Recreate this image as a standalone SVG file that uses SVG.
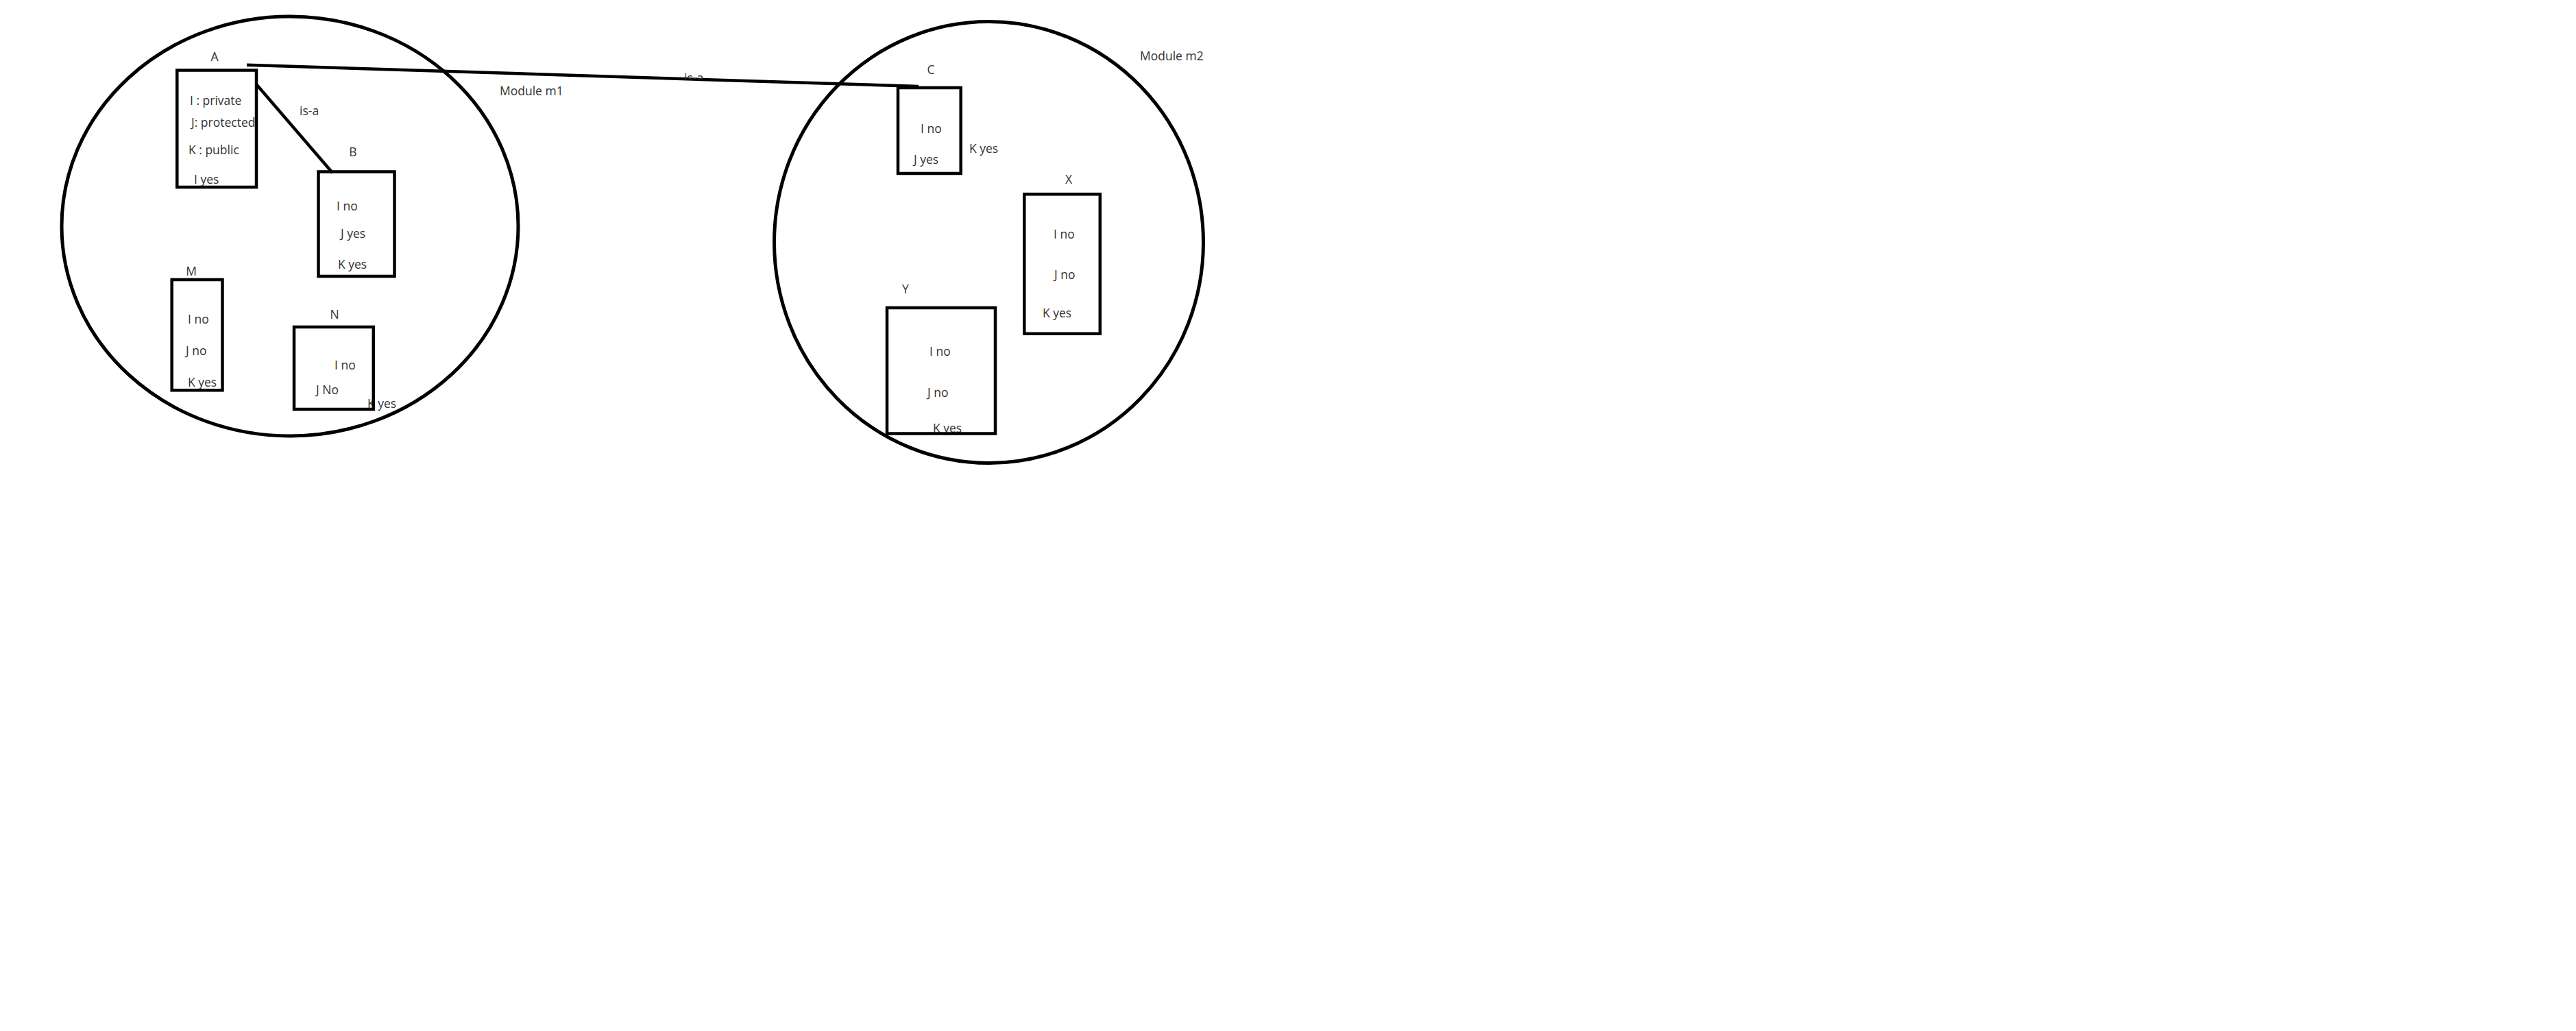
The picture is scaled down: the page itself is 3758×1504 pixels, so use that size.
<svg xmlns="http://www.w3.org/2000/svg" width="3758" height="1504" viewBox="0 0 3758 1504">
<style>
  .t { font-family: "Open Sans", "Noto Sans", "Liberation Sans", sans-serif; font-size: 17.5px; fill: #333; }
  .c { text-anchor: middle; }
  .box { fill: none; stroke: #000; stroke-width: 4.5; }
  .mod { fill: none; stroke: #000; stroke-width: 5; }
  .edge { fill: none; stroke: #000; stroke-width: 4.5; stroke-linecap: butt; }
</style>
<defs>
  <clipPath id="isaClip"><rect x="980" y="90" width="60" height="26"/></clipPath>
</defs>
<rect x="0" y="0" width="3758" height="1504" fill="#fff"/>

<g id="module-m1">
  <ellipse class="mod" cx="423" cy="330" rx="333" ry="306"/>
  <text class="t" x="729" y="139">Module m1</text>
</g>
<g id="module-m2">
  <ellipse class="mod" cx="1442.5" cy="353.5" rx="313" ry="322"/>
  <text class="t" x="1663" y="88">Module m2</text>
</g>

<g id="connectors">
  <line class="edge" x1="374" y1="123" x2="485" y2="252"/>
  <text class="t" x="437" y="168">is-a</text>
  <line class="edge" x1="360" y1="94.7" x2="1340" y2="126"/>
  <text class="t" x="998" y="120" clip-path="url(#isaClip)">is-a</text>
</g>

<g id="node-A">
  <text class="t c" x="313" y="89">A</text>
  <text class="t" x="277" y="153">I : private</text>
  <text class="t" x="279" y="185">J: protected</text>
  <text class="t" x="275" y="225">K : public</text>
  <text class="t" x="283" y="268">I yes</text>
  <rect class="box" x="258.3" y="102.5" width="115.7" height="170.5"/>
</g>

<g id="node-B">
  <text class="t c" x="515" y="228">B</text>
  <text class="t" x="491" y="307">I no</text>
  <text class="t" x="497" y="347">J yes</text>
  <text class="t" x="493" y="392">K yes</text>
  <rect class="box" x="464.5" y="250.5" width="111" height="152.5"/>
</g>

<g id="node-M">
  <text class="t c" x="279" y="402">M</text>
  <text class="t" x="274" y="472">I no</text>
  <text class="t" x="271" y="518">J no</text>
  <text class="t" x="274" y="564">K yes</text>
  <rect class="box" x="250.7" y="408" width="73.8" height="161.3"/>
</g>

<g id="node-N">
  <text class="t c" x="488" y="465">N</text>
  <text class="t" x="488" y="539">I no</text>
  <text class="t" x="461" y="575">J No</text>
  <text class="t" x="536" y="595">K yes</text>
  <rect class="box" x="429" y="477" width="115.8" height="120"/>
</g>

<g id="node-C">
  <text class="t c" x="1358" y="108">C</text>
  <text class="t" x="1343" y="194">I no</text>
  <text class="t" x="1333" y="239">J yes</text>
  <text class="t" x="1414" y="223">K yes</text>
  <rect class="box" x="1310" y="128" width="91.7" height="125"/>
</g>

<g id="node-X">
  <text class="t c" x="1559" y="268">X</text>
  <text class="t" x="1537" y="348">I no</text>
  <text class="t" x="1538" y="407">J no</text>
  <text class="t" x="1521" y="463">K yes</text>
  <rect class="box" x="1494.3" y="283.3" width="110.5" height="203.5"/>
</g>

<g id="node-Y">
  <text class="t c" x="1321" y="428">Y</text>
  <text class="t" x="1356" y="519">I no</text>
  <text class="t" x="1353" y="579">J no</text>
  <text class="t" x="1361" y="631">K yes</text>
  <rect class="box" x="1294" y="449" width="158" height="183.5"/>
</g>
</svg>
